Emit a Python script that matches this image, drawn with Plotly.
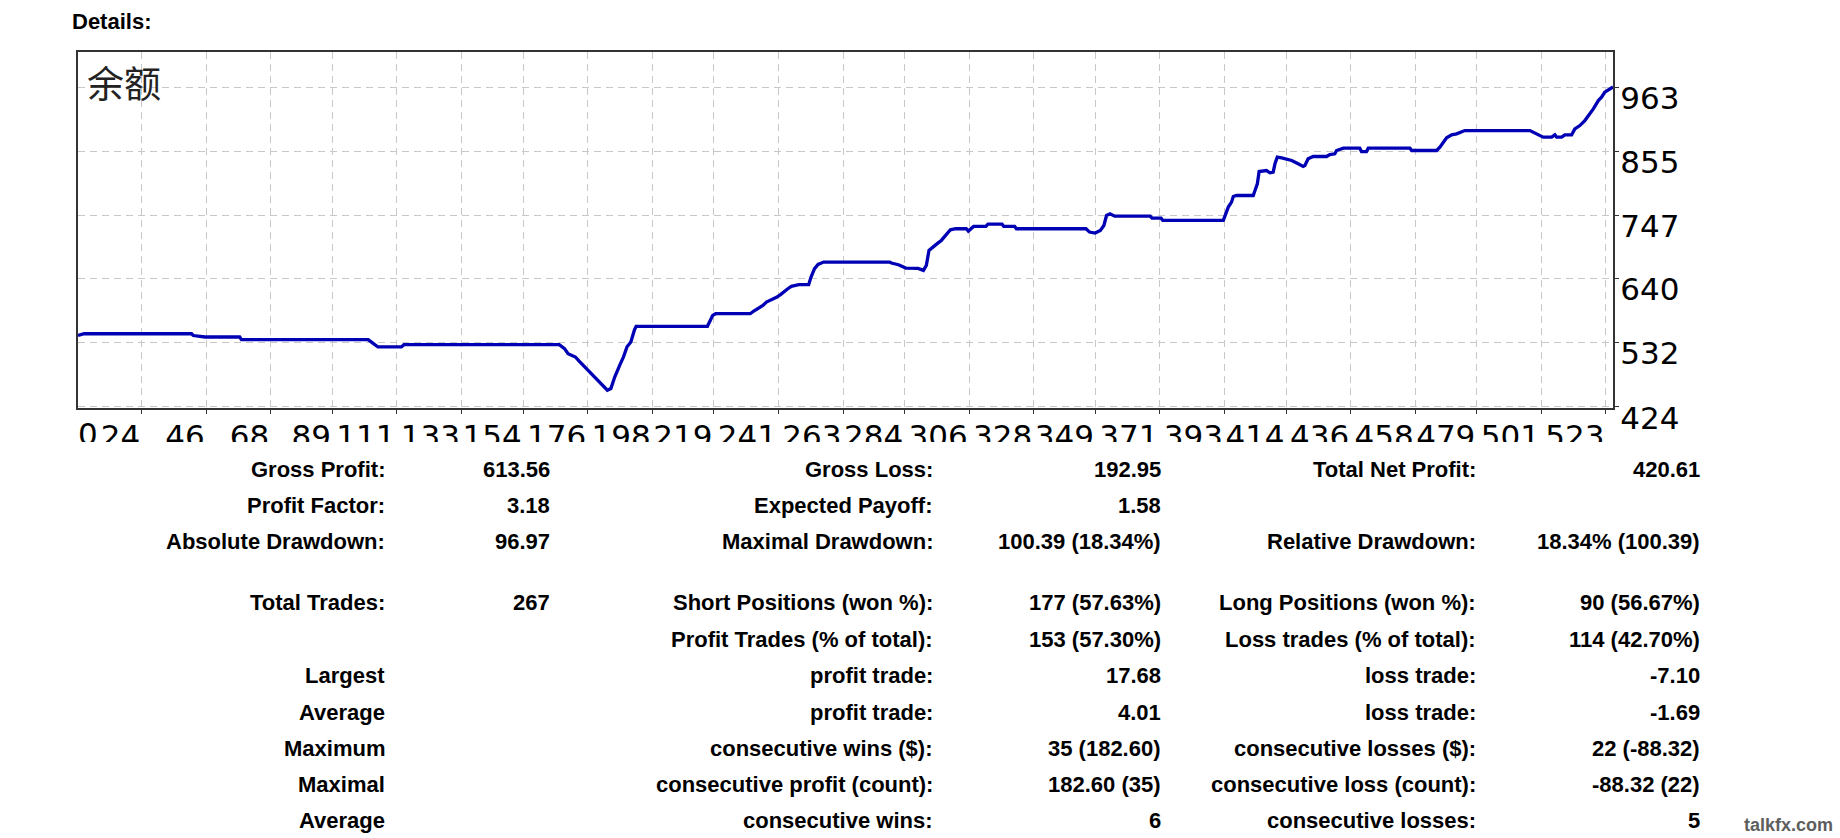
import plotly.graph_objects as go

# ---------------- data ----------------
trade_no = [2.3, 4.4, 41.0, 41.6, 45.6, 57.4, 58.0, 101.2, 103.0, 104.5, 112.5, 113.4,
            166.3, 168.1, 169.3, 171.8, 173.0, 182.7, 183.9, 185.2, 187.0, 188.2, 189.4,
            190.7, 191.9, 192.5, 216.8, 217.4, 218.6, 219.6, 231.4, 232.6, 233.9, 235.7,
            236.9, 238.7, 240.5, 241.8, 243.0, 244.2, 245.4, 247.9, 251.3, 252.1, 253.3,
            254.5, 256.4, 278.9, 279.5, 281.9, 284.4, 288.6, 290.4, 291.4, 292.3, 293.5,
            295.3, 296.5, 298.4, 299.6, 301.4, 305.0, 305.7, 307.5, 311.7, 312.4, 317.2,
            317.8, 321.5, 322.1, 345.8, 347.0, 348.9, 350.7, 351.9, 352.8, 354.0, 355.6,
            367.7, 368.3, 371.4, 372.0, 392.6, 393.1, 394.3, 395.4, 396.0, 397.1, 402.8,
            403.4, 404.2, 404.8, 407.3, 408.5, 409.6, 410.2, 411.0, 412.5, 414.2, 415.9,
            418.1, 419.8, 420.4, 421.5, 423.2, 427.8, 428.9, 430.6, 431.2, 433.5, 439.1,
            439.7, 441.4, 442.0, 456.2, 456.8, 465.3, 466.4, 468.7, 470.4, 472.1, 473.8,
            474.9, 497.1, 498.2, 499.9, 501.6, 504.5, 505.6, 506.2, 507.9, 509.0, 511.3,
            512.4, 514.1, 515.8, 517.5, 518.7, 520.4, 521.5, 522.6, 523.8, 525.4]
balance = [544.0, 547.0, 547.0, 544.0, 541.5, 541.5, 537.0, 537.0, 530.3, 524.7, 524.7, 528.6,
           528.6, 521.9, 513.4, 507.8, 501.1, 451.7, 454.5, 474.0, 495.0, 508.0, 525.0,
           533.0, 553.0, 559.5, 559.5, 566.8, 578.0, 580.8, 580.8, 585.3, 589.2, 594.8,
           600.5, 604.4, 608.9, 613.4, 619.0, 622.9, 626.9, 629.7, 629.7, 642.6, 656.6,
           663.9, 667.8, 667.8, 666.2, 663.3, 657.7, 657.2, 653.8, 662.2, 687.5, 693.1,
           699.8, 704.3, 714.4, 722.3, 724.0, 724.0, 720.1, 727.9, 727.9, 731.8, 731.8,
           727.9, 727.9, 724.0, 724.0, 718.4, 716.7, 721.2, 729.6, 746.4, 749.2, 745.3,
           745.3, 741.9, 741.9, 738.0, 738.0, 744.8, 760.5, 768.9, 778.4, 780.1, 780.1,
           788.5, 799.8, 820.5, 822.2, 818.3, 819.4, 833.5, 844.7, 843.6, 840.8, 839.1,
           833.5, 829.0, 830.7, 841.9, 845.8, 845.8, 849.2, 850.3, 855.9, 859.9, 859.9,
           854.2, 854.2, 859.9, 859.9, 855.9, 855.9, 861.5, 877.3, 882.3, 884.0, 886.8,
           889.6, 889.6, 886.8, 884.0, 878.4, 878.4, 882.3, 878.4, 878.4, 882.3, 882.3,
           892.4, 898.0, 906.4, 917.7, 926.1, 940.1, 945.8, 954.2, 958.1, 963.0]

x_tick_labels = ["24", "46", "68", "89", "111", "133", "154", "176", "198", "219", "241", "263",
                 "284", "306", "328", "349", "371", "393", "414", "436", "458", "479", "501", "523"]
x_first_label = "0"
y_tick_labels = ["424", "532", "640", "747", "855", "963"]
x_range = [2.3, 525.4]
y_range = [421.8, 1022.0]

chart_title = "余额"
section_title = "Details:"
watermark = "talkfx.com"

col1_labels = ["Gross Profit:", "Profit Factor:", "Absolute Drawdown:", "Total Trades:", "",
               "Largest", "Average", "Maximum", "Maximal", "Average"]
col2_values = ["613.56", "3.18", "96.97", "267", "", "", "", "", "", ""]
col3_labels = ["Gross Loss:", "Expected Payoff:", "Maximal Drawdown:", "Short Positions (won %):",
               "Profit Trades (% of total):", "profit trade:", "profit trade:",
               "consecutive wins ($):", "consecutive profit (count):", "consecutive wins:"]
col4_values = ["192.95", "1.58", "100.39 (18.34%)", "177 (57.63%)", "153 (57.30%)", "17.68",
               "4.01", "35 (182.60)", "182.60 (35)", "6"]
col5_labels = ["Total Net Profit:", "", "Relative Drawdown:", "Long Positions (won %):",
               "Loss trades (% of total):", "loss trade:", "loss trade:",
               "consecutive losses ($):", "consecutive loss (count):", "consecutive losses:"]
col6_values = ["420.61", "", "18.34% (100.39)", "90 (56.67%)", "114 (42.70%)", "-7.10",
               "-1.69", "22 (-88.32)", "-88.32 (22)", "5"]

# ---------------- layout helpers ----------------
W, H = 1840, 838
L, R, T, B = 78, 1613, 52, 408


def px(x):
    return (x - L) / (R - L)


def py(y):
    return (B - y) / (B - T)


AXIS_FONT = "DejaVu Sans, Verdana, sans-serif"
TEXT_FONT = "Liberation Sans, Arial, sans-serif"
GRID = "#c8c8c8"
BORDER = "#333333"

fig = go.Figure()
fig.add_trace(go.Scatter(x=trade_no, y=balance, mode="lines",
                         line=dict(color="#0000b4", width=3.3), hoverinfo="skip",
                         showlegend=False))
# invisible trace to activate the second x axis (first label "0")
fig.add_trace(go.Scatter(x=[x_range[0]], y=[y_range[0]], xaxis="x2", mode="markers",
                         marker=dict(opacity=0), hoverinfo="skip", showlegend=False))

fig.update_layout(
    width=W, height=H,
    margin=dict(l=L, r=W - R, t=T, b=H - B, pad=0, autoexpand=False),
    paper_bgcolor="white", plot_bgcolor="white",
    showlegend=False,
    xaxis=dict(range=x_range, tickvals=[float(t) for t in x_tick_labels], ticktext=x_tick_labels,
               ticks="outside", ticklen=4, tickwidth=1, tickcolor=BORDER,
               ticklabelposition="outside left", tickangle=0, automargin=False,
               ticklabelstandoff=0,
               tickfont=dict(family=AXIS_FONT, size=31, color="black"),
               showgrid=True, gridcolor=GRID, gridwidth=1, griddash="7px,5px",
               showline=True, linecolor=BORDER, linewidth=2, mirror=True,
               zeroline=False, fixedrange=True),
    xaxis2=dict(range=x_range, overlaying="x", anchor="y", side="bottom",
                tickvals=[x_range[0]], ticktext=[x_first_label], ticks="",
                ticklabelposition="outside right", tickangle=0, automargin=False,
                ticklabelstandoff=5,
                tickfont=dict(family=AXIS_FONT, size=31, color="black"),
                showgrid=False, showline=False, zeroline=False, fixedrange=True),
    yaxis=dict(range=y_range, side="right", tickvals=[float(t) for t in y_tick_labels],
               ticktext=y_tick_labels, ticks="outside", ticklen=4, tickwidth=1,
               tickcolor=BORDER, ticklabelshift=11, ticklabelstandoff=-5, automargin=False,
               tickfont=dict(family=AXIS_FONT, size=31, color="black"),
               showgrid=True, gridcolor=GRID, gridwidth=1, griddash="7px,5px",
               showline=True, linecolor=BORDER, linewidth=2, mirror=True,
               zeroline=False, fixedrange=True),
)

# clip the bottom part of the x tick labels like the reference
fig.add_shape(type="rect", xref="paper", yref="paper", x0=px(0), x1=px(W), y0=py(442),
              y1=py(458), fillcolor="white", line=dict(width=0), layer="above")

ann = []
ann.append(dict(text="<b>%s</b>" % section_title, x=px(70), y=py(21), xanchor="left",
                yanchor="middle", font=dict(family=TEXT_FONT, size=22, color="black")))
ann.append(dict(text=chart_title, x=px(85), y=py(82), xanchor="left", yanchor="middle",
                font=dict(family="Noto Sans CJK SC", size=37, color="#222222")))

row_y = [469, 505.5, 541.5, 602.5, 639, 675.5, 712, 748, 784, 820]
col_right = [387, 551.5, 935, 1162.5, 1477.5, 1702.5]
cols = [col1_labels, col2_values, col3_labels, col4_values, col5_labels, col6_values]
for ci, col in enumerate(cols):
    for ri, txt in enumerate(col):
        if not txt:
            continue
        ann.append(dict(text="<b>%s</b>" % txt, x=px(col_right[ci]), y=py(row_y[ri]),
                        xanchor="right", yanchor="middle",
                        font=dict(family=TEXT_FONT, size=22, color="black")))

ann.append(dict(text="<b>%s</b>" % watermark, x=px(1835), y=py(825), xanchor="right",
                yanchor="middle", font=dict(family=TEXT_FONT, size=18, color="#5e5e5e")))
for a in ann:
    a.update(xref="paper", yref="paper", showarrow=False)
fig.update_layout(annotations=ann)

fig.write_html("out.html", config={"displayModeBar": False})
